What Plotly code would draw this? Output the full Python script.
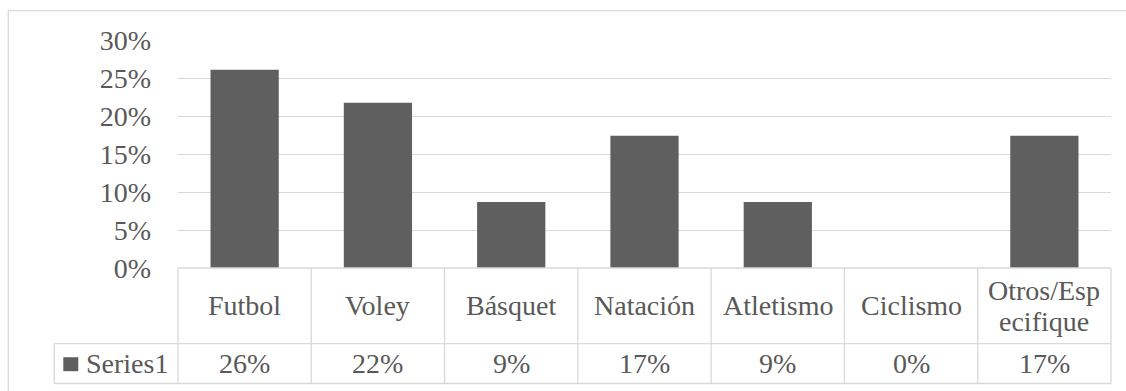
import plotly.graph_objects as go

categories = ["Futbol", "Voley", "Básquet", "Natación", "Atletismo", "Ciclismo", "Otros/Especifique"]
table_labels = ["Futbol", "Voley", "Básquet", "Natación", "Atletismo", "Ciclismo", "Otros/Esp<br>ecifique"]
series_name = "Series1"
values = [0.2609, 0.2174, 0.0870, 0.1739, 0.0870, 0.0, 0.1739]
y_ticks = [0, 0.05, 0.10, 0.15, 0.20, 0.25, 0.30]

W, H = 1126, 391
X0, X1 = 177.7, 1110.7
YT, YB = 39.5, 267.7
FONT = "Liberation Serif"
TXT = "#595959"
LINE = "#d9d9d9"
BAR = "#5f5f5f"
FS = 28

def px(x):
    return (x - X0) / (X1 - X0)

def py(y):
    return (YB - y) / (YB - YT)

fig = go.Figure()
fig.add_trace(go.Bar(x=categories, y=values, marker=dict(color=BAR, line=dict(width=0)),
                     name=series_name, showlegend=False))

n = len(categories)
colw = (X1 - X0) / n
row1_top, row1_bot, row2_bot = YB, 343.3, 383.3
leg_left = 54

shapes = []
def hline(x0, x1, y):
    shapes.append(dict(type="line", xref="paper", yref="paper", x0=px(x0), x1=px(x1), y0=py(y), y1=py(y),
                       line=dict(color=LINE, width=1.3)))
def vline(x, y0, y1):
    shapes.append(dict(type="line", xref="paper", yref="paper", x0=px(x), x1=px(x), y0=py(y0), y1=py(y1),
                       line=dict(color=LINE, width=1.3)))

# outer chart border
hline(8, 1126, 10)
vline(8, 10, 391)

# data table
hline(X0, X1, row1_top)
hline(leg_left, X1, row1_bot)
hline(leg_left, X1, row2_bot)
for i in range(n + 1):
    vline(X0 + i * colw, row1_top, row2_bot)
vline(leg_left, row1_bot, row2_bot)

# legend key square
shapes.append(dict(type="rect", xref="paper", yref="paper", x0=px(63), x1=px(78), y0=py(371), y1=py(357),
                   fillcolor=BAR, line=dict(width=0)))

annotations = []
hdr_c = (row1_top + row1_bot) / 2
dat_c = (row1_bot + row2_bot) / 2
for cat, lab, v in zip(categories, table_labels, values):
    parts = lab.split("<br>")
    if len(parts) == 1:
        ys = [hdr_c]
    else:
        ys = [hdr_c - 15, hdr_c + 16]
    for part, yy in zip(parts, ys):
        annotations.append(dict(x=cat, xref="x", y=py(yy), yref="paper", text=part, showarrow=False,
                                xanchor="center", yanchor="middle", font=dict(family=FONT, size=FS, color=TXT)))
    annotations.append(dict(x=cat, xref="x", y=py(dat_c), yref="paper", text=f"{round(v*100):.0f}%",
                            showarrow=False, xanchor="center", yanchor="middle",
                            font=dict(family=FONT, size=FS, color=TXT)))
annotations.append(dict(x=px(84), xref="paper", y=py(dat_c), yref="paper", text=series_name, showarrow=False,
                        xanchor="left", yanchor="middle", font=dict(family=FONT, size=FS, color=TXT)))

fig.update_layout(
    width=W, height=H,
    margin=dict(l=X0, r=W - X1, t=YT, b=H - YB, pad=0),
    paper_bgcolor="white", plot_bgcolor="white",
    bargap=0.488,
    shapes=shapes, annotations=annotations,
    font=dict(family=FONT, size=FS, color=TXT),
    xaxis=dict(showticklabels=False, showgrid=False, zeroline=False, showline=False, ticks=""),
    yaxis=dict(range=[0, 0.30], tickvals=y_ticks, tickformat=".0%", showgrid=True, gridcolor=LINE,
               gridwidth=1.3, zeroline=False, showline=False, ticks="", ticklabelstandoff=26,
               tickfont=dict(family=FONT, size=FS, color=TXT)),
)

fig.write_html("out.html")
